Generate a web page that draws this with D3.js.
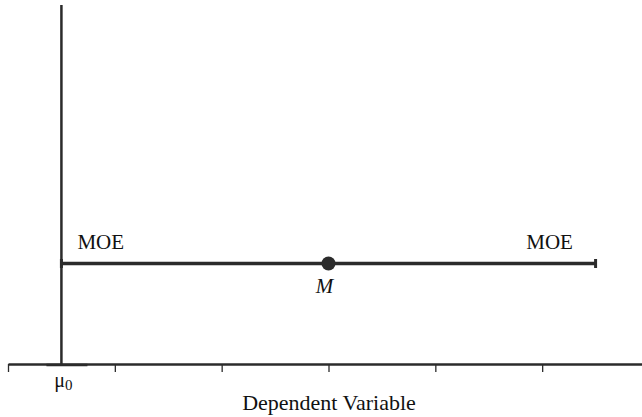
<!DOCTYPE html>
<html>
<head>
<meta charset="utf-8">
<script src="https://cdn.jsdelivr.net/npm/d3@7"></script>
<style>
  body { margin: 0; background: #fff; }
  text { font-family: "Liberation Serif", "DejaVu Serif", serif; fill: #111; }
</style>
</head>
<body>
<div id="chart"></div>
<script>
// axis ticks (unlabelled) on the dependent variable
var tickValues = [0, 1, 2, 3, 4, 5];
// population mean under the null, sample mean, margin of error
var mu0 = 0.5;
var sampleMean = 3;
var moe = 2.5;
var intervalLevel = 0.28;

var width = 642, height = 417;
var ink = '#2b2b2b';

var svg = d3.select('#chart').append('svg')
  .attr('width', width)
  .attr('height', height);

var x = d3.scaleLinear().domain([0, 6]).range([8, 649]);
var y = d3.scaleLinear().domain([0, 1]).range([364, 5]);

// bottom axis, ticks hang below
var axis = svg.append('g')
  .attr('transform', 'translate(0,' + y(0) + ')')
  .call(d3.axisBottom(x).tickValues(tickValues).tickSize(8).tickSizeOuter(0).tickFormat(''));
axis.select('.domain').attr('stroke', ink).attr('stroke-width', 2.5);
axis.selectAll('.tick line').attr('stroke', ink).attr('stroke-width', 1.3);

// mu0 marker on axis
svg.append('line')
  .attr('x1', x(mu0) - 15).attr('x2', x(mu0) + 26)
  .attr('y1', y(0) + 1).attr('y2', y(0) + 1)
  .attr('stroke', ink).attr('stroke-width', 2.5);

// vertical line at mu0
svg.append('line')
  .attr('x1', x(mu0)).attr('x2', x(mu0))
  .attr('y1', y(1)).attr('y2', y(0))
  .attr('stroke', ink).attr('stroke-width', 2.5);

// interval line
var lo = sampleMean - moe, hi = sampleMean + moe;
svg.append('line')
  .attr('x1', x(lo)).attr('x2', x(hi))
  .attr('y1', y(intervalLevel)).attr('y2', y(intervalLevel))
  .attr('stroke', ink).attr('stroke-width', 3.5);

// end caps
[lo, hi].forEach(function(v) {
  svg.append('line')
    .attr('x1', x(v)).attr('x2', x(v))
    .attr('y1', y(intervalLevel) - 4.5).attr('y2', y(intervalLevel) + 4.5)
    .attr('stroke', ink).attr('stroke-width', 3);
});

// sample mean dot
svg.append('circle')
  .attr('cx', x(sampleMean)).attr('cy', y(intervalLevel))
  .attr('r', 7)
  .attr('fill', ink);

// labels
svg.append('text')
  .attr('x', x(lo) + 16).attr('y', y(intervalLevel) - 14)
  .attr('font-size', 21)
  .text('MOE');

svg.append('text')
  .attr('x', x(hi) - 46).attr('y', y(intervalLevel) - 14)
  .attr('text-anchor', 'middle')
  .attr('font-size', 21)
  .text('MOE');

svg.append('text')
  .attr('x', x(sampleMean) - 4).attr('y', y(intervalLevel) + 30)
  .attr('text-anchor', 'middle')
  .attr('font-size', 21)
  .attr('font-style', 'italic')
  .text('M');

var muLabel = svg.append('text')
  .attr('x', x(mu0) + 2).attr('y', y(0) + 23)
  .attr('text-anchor', 'middle')
  .attr('font-size', 20);
muLabel.append('tspan').text('μ');
muLabel.append('tspan').attr('dy', 3).attr('font-size', 15).text('0');

svg.append('text')
  .attr('x', 329).attr('y', 410)
  .attr('text-anchor', 'middle')
  .attr('font-size', 22)
  .text('Dependent Variable');
</script>
</body>
</html>
